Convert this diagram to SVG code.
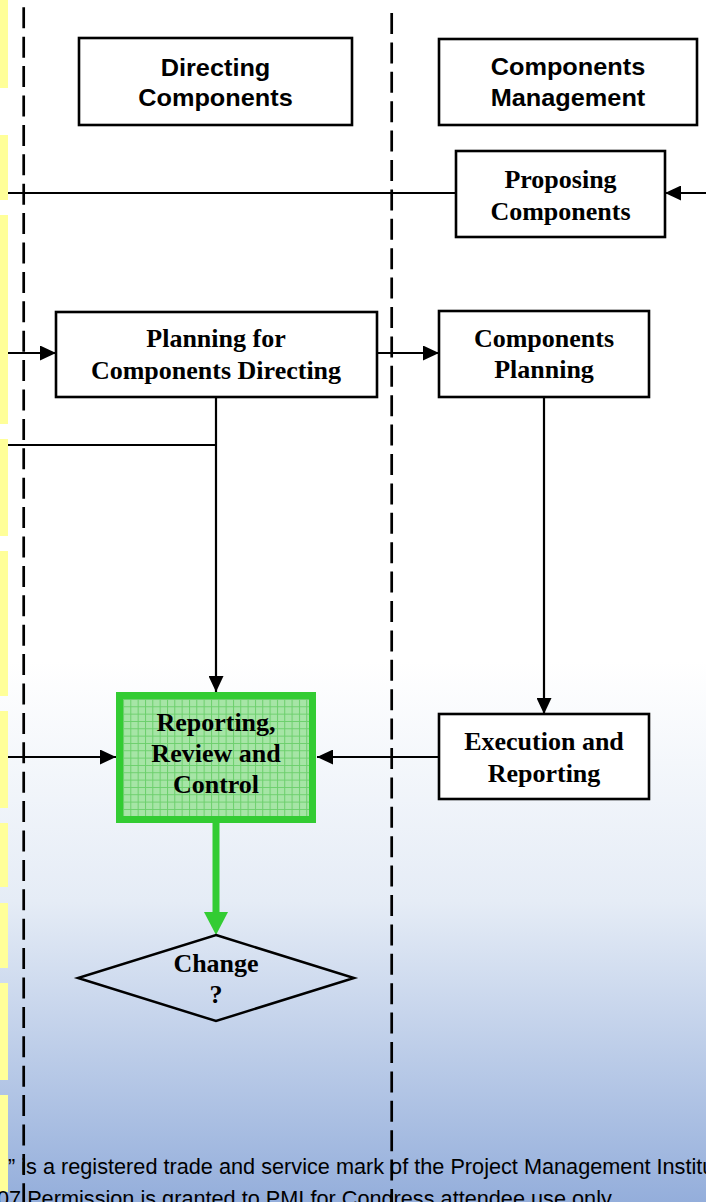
<svg xmlns="http://www.w3.org/2000/svg" width="706" height="1202" viewBox="0 0 706 1202">
  <style>
    .strip { fill: #ffff99; }
    .lane { stroke: #000; stroke-width: 2.7; stroke-dasharray: 21 8.4; fill: none; }
    .box { fill: #ffffff; stroke: #000; stroke-width: 2.6; }
    .hdr { font-family: "Liberation Sans", Arial, sans-serif; font-weight: bold; font-size: 23px; text-anchor: middle; fill: #000; }
    .lbl { font-family: "Liberation Serif", "Times New Roman", serif; font-weight: bold; font-size: 26px; text-anchor: middle; fill: #000; }
    .conn { stroke: #000; stroke-width: 2.2; fill: none; }
    .arrow { marker-end: url(#ah); }
    .note { font-family: "Liberation Sans", Arial, sans-serif; font-size: 21.7px; fill: #000; }
  </style>
  <defs>
    <linearGradient id="bg" x1="0" y1="0" x2="0" y2="1202" gradientUnits="userSpaceOnUse">
      <stop offset="0" stop-color="#ffffff"/>
      <stop offset="0.55" stop-color="#ffffff"/>
      <stop offset="0.75" stop-color="#e5ecf6"/>
      <stop offset="1" stop-color="#94aedb"/>
    </linearGradient>
    <pattern id="grid" x="123" y="699" width="7.33" height="7.33" patternUnits="userSpaceOnUse">
      <rect width="7.33" height="7.33" fill="#a6e5a6"/>
      <path d="M0,0.5 H7.33 M0.5,0 V7.33" stroke="#6bcf6b" stroke-width="1"/>
    </pattern>
    <marker id="ah" markerUnits="userSpaceOnUse" markerWidth="16" markerHeight="15" refX="16" refY="7.5" orient="auto">
      <path d="M0,0 L16,7.5 L0,15 Z" fill="#000"/>
    </marker>
  </defs>

  <!-- page background -->
  <rect x="0" y="0" width="706" height="1202" fill="url(#bg)"/>

  <!-- yellow tabs along the left edge -->
  <g id="tabs">
    <rect class="strip" x="0" y="0" width="8" height="88"/>
    <rect class="strip" x="0" y="135" width="8" height="65"/>
    <rect class="strip" x="0" y="215" width="8" height="209"/>
    <rect class="strip" x="0" y="439" width="8" height="97"/>
    <rect class="strip" x="0" y="551" width="8" height="145"/>
    <rect class="strip" x="0" y="711" width="8" height="97"/>
    <rect class="strip" x="0" y="823" width="8" height="64"/>
    <rect class="strip" x="0" y="903" width="8" height="65"/>
    <rect class="strip" x="0" y="983" width="8" height="97"/>
    <rect class="strip" x="0" y="1095" width="8" height="97"/>
  </g>

  <!-- footer notice -->
  <g id="footer">
    <text class="note" x="8" y="1174">” is a registered trade and service mark of the Project Management Institu</text>
    <text class="note" x="-3" y="1206">07 Permission is granted to PMI for Congress attendee use only.</text>
  </g>

  <!-- swimlane separators -->
  <g id="lanes">
    <line class="lane" x1="23.7" y1="7.3" x2="23.7" y2="1202"/>
    <line class="lane" x1="391.7" y1="13" x2="391.7" y2="1202"/>
  </g>

  <!-- connectors -->
  <g id="connectors">
    <line class="conn arrow" x1="706" y1="193" x2="665" y2="193"/>
    <line class="conn" x1="456" y1="193" x2="8" y2="193"/>
    <line class="conn arrow" x1="8" y1="353" x2="56" y2="353"/>
    <line class="conn arrow" x1="377" y1="353" x2="439" y2="353"/>
    <line class="conn" x1="8" y1="445" x2="216" y2="445"/>
    <line class="conn arrow" x1="216" y1="397" x2="216" y2="692"/>
    <line class="conn arrow" x1="544" y1="397" x2="544" y2="714"/>
    <line class="conn arrow" x1="439" y1="757" x2="317" y2="757"/>
    <line class="conn arrow" x1="8" y1="757" x2="116" y2="757"/>
    <line x1="216" y1="823" x2="216" y2="913" stroke="#33cc33" stroke-width="7"/>
    <path d="M204,912 L228,912 L216,935 Z" fill="#33cc33"/>
  </g>

  <g id="directing-components">
    <rect class="box" x="79" y="38" width="273" height="87"/>
    <text class="hdr" transform="translate(215.5 0) scale(1.1 1)" x="0" y="76">Directing</text>
    <text class="hdr" transform="translate(215.5 0) scale(1.1 1)" x="0" y="106">Components</text>
  </g>

  <g id="components-management">
    <rect class="box" x="439" y="39" width="258" height="86"/>
    <text class="hdr" transform="translate(568 0) scale(1.1 1)" x="0" y="75">Components</text>
    <text class="hdr" transform="translate(568 0) scale(1.1 1)" x="0" y="106">Management</text>
  </g>

  <g id="proposing-components">
    <rect class="box" x="456" y="151" width="209" height="86"/>
    <text class="lbl" x="560.5" y="188">Proposing</text>
    <text class="lbl" x="560.5" y="220">Components</text>
  </g>

  <g id="planning-directing">
    <rect class="box" x="56" y="312" width="321" height="85"/>
    <text class="lbl" x="216" y="347">Planning for</text>
    <text class="lbl" x="216" y="379">Components Directing</text>
  </g>

  <g id="components-planning">
    <rect class="box" x="439" y="311" width="210" height="86"/>
    <text class="lbl" x="544" y="347">Components</text>
    <text class="lbl" x="544" y="378">Planning</text>
  </g>

  <g id="execution-reporting">
    <rect class="box" x="439" y="714" width="210" height="85"/>
    <text class="lbl" x="544" y="750">Execution and</text>
    <text class="lbl" x="544" y="782">Reporting</text>
  </g>

  <g id="review-control">
    <rect x="119.5" y="695.5" width="193" height="124" fill="url(#grid)" stroke="#33cc33" stroke-width="7"/>
    <text class="lbl" x="216" y="731">Reporting,</text>
    <text class="lbl" x="216" y="762">Review and</text>
    <text class="lbl" x="216" y="793">Control</text>
  </g>

  <g id="change-decision">
    <path d="M216,935 L354,978 L216,1021 L78,978 Z" fill="none" stroke="#000" stroke-width="2.5"/>
    <text class="lbl" x="216" y="972">Change</text>
    <text class="lbl" x="216" y="1003">?</text>
  </g>
</svg>
